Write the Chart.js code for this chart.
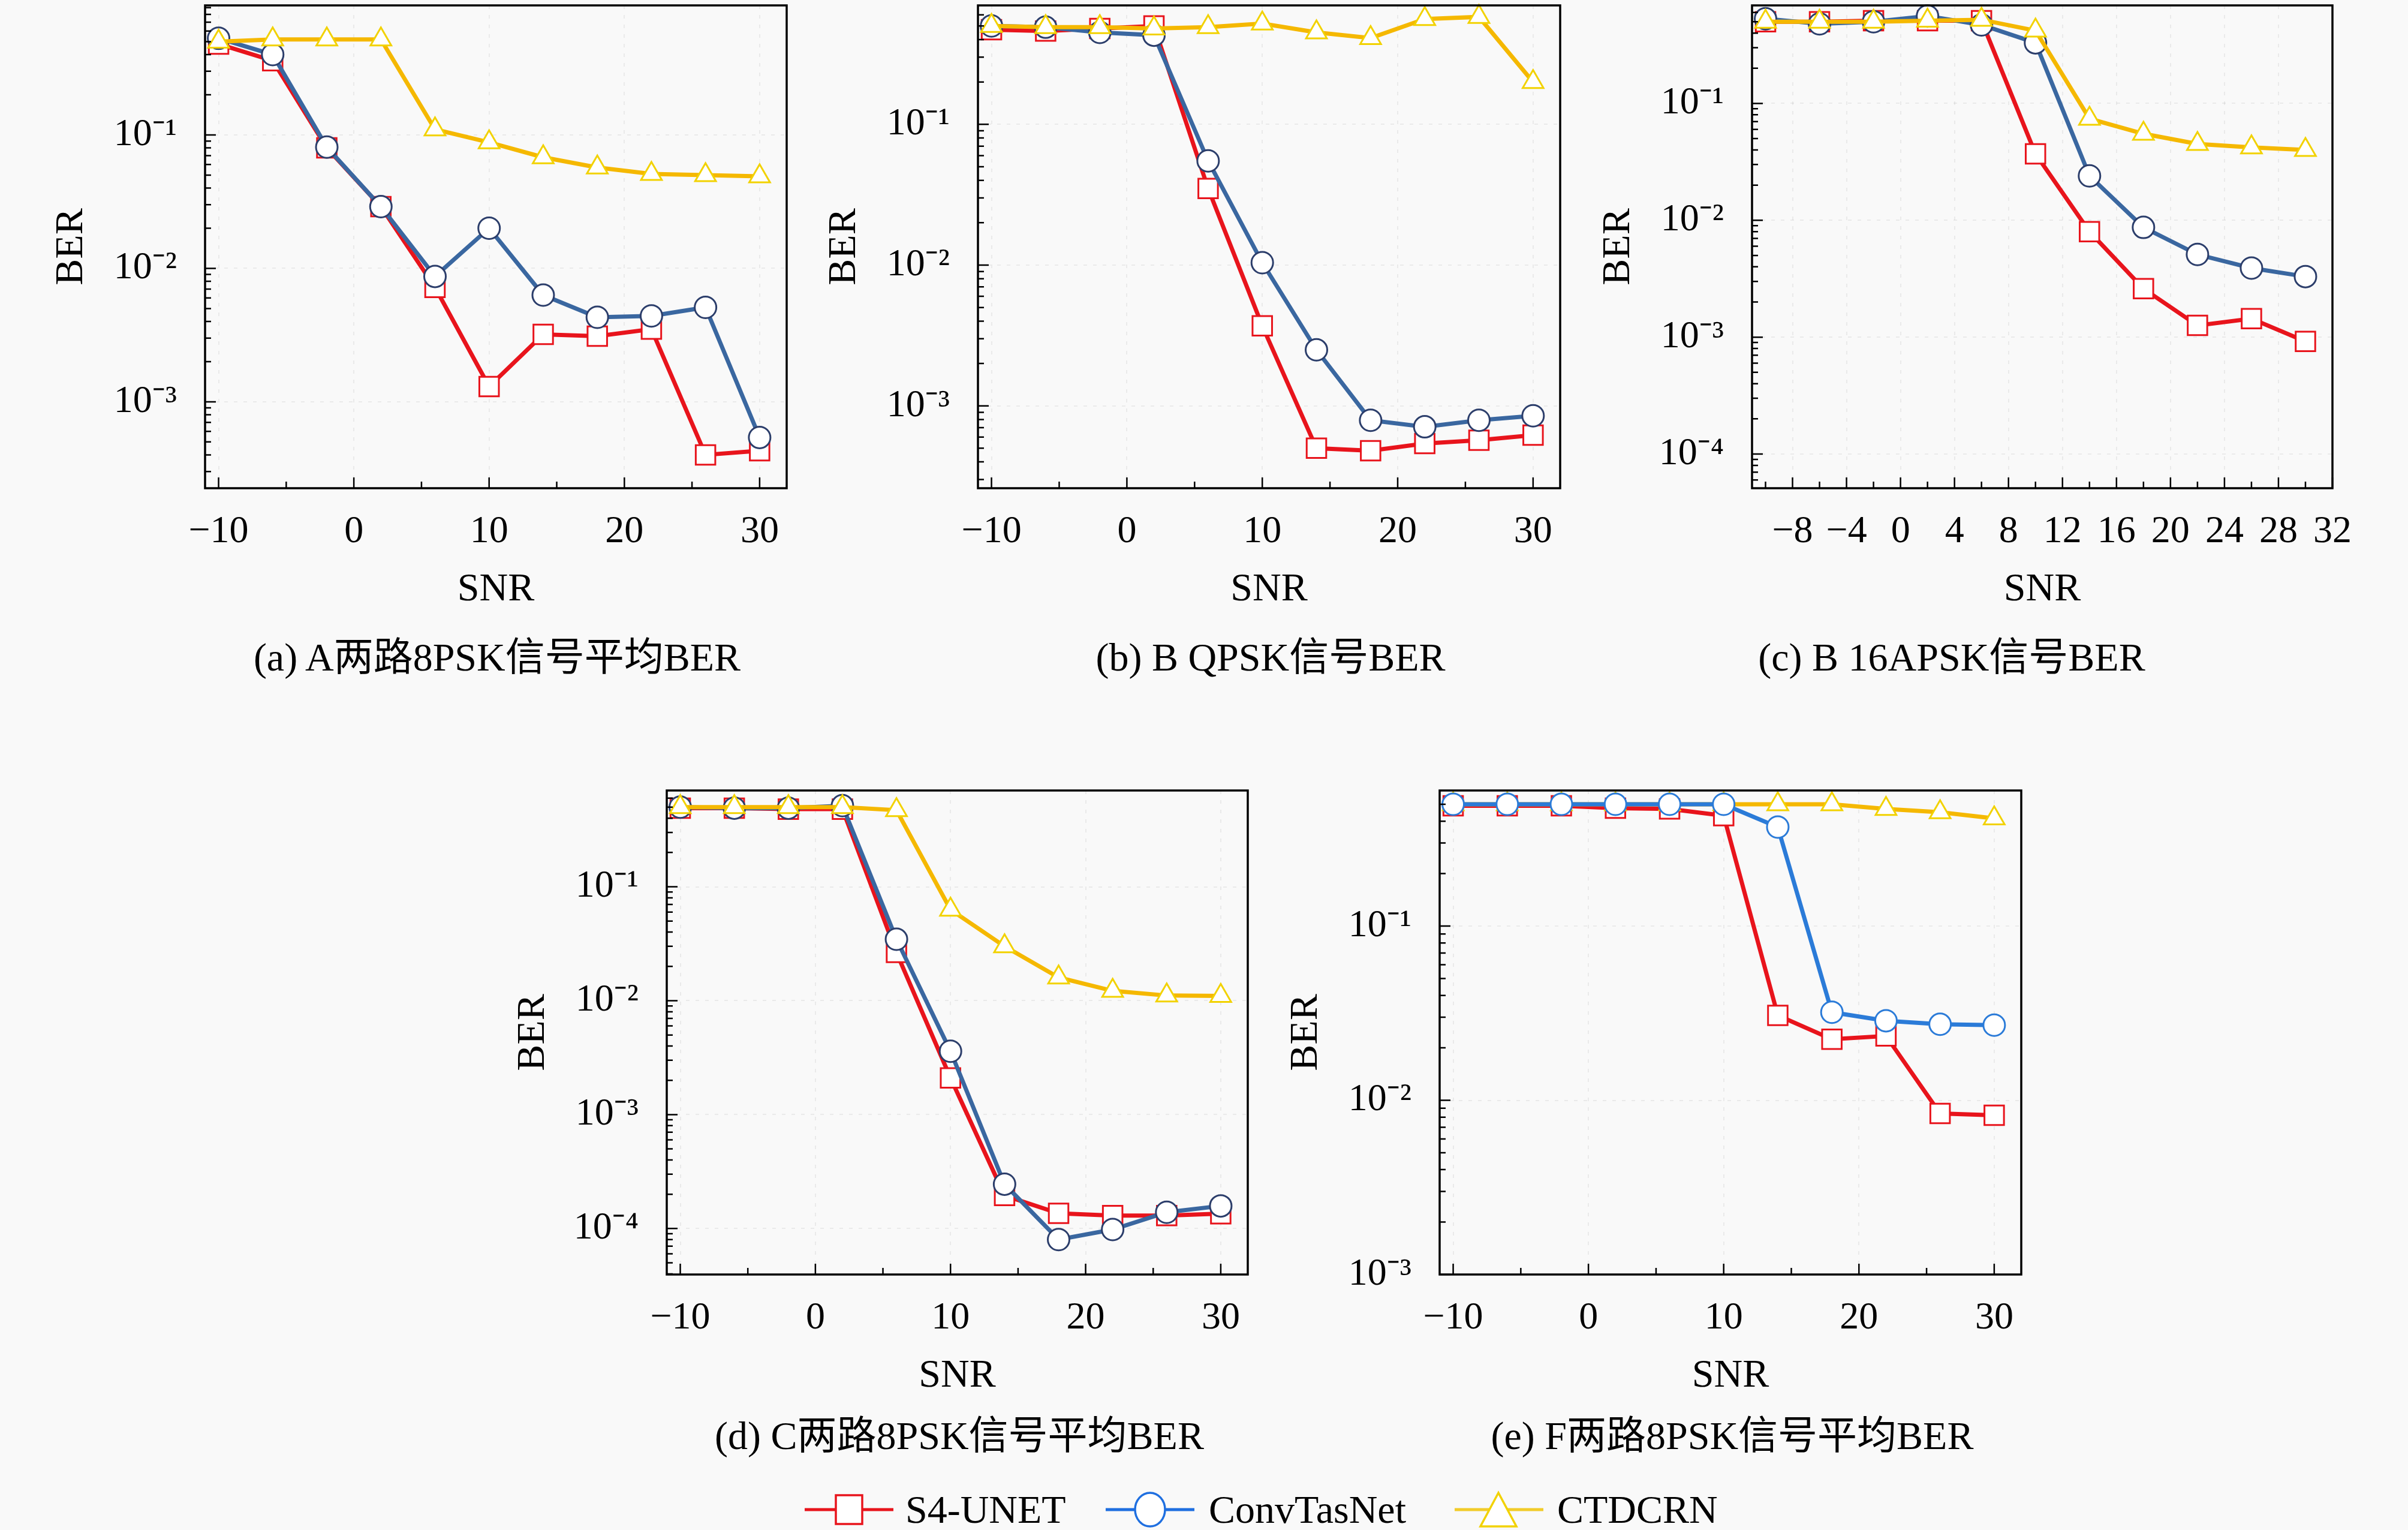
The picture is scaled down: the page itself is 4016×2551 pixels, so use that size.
<!DOCTYPE html>
<html>
<head>
<meta charset="utf-8">
<script src="https://cdn.jsdelivr.net/npm/chart.js@4.4.1/dist/chart.umd.min.js"></script>
<style>
	html, body { margin: 0; padding: 0; background: #f9f9f9; }
	body { width: 4016px; height: 2551px; position: relative; overflow: hidden;
		font-family: "Liberation Serif", "Noto Sans CJK SC", serif; color: #000; }
	canvas { position: absolute; }
	.cap { position: absolute; font-size: 66px; line-height: 80px; white-space: nowrap; transform: translate(-50%, -50%); }
	.leg { position: absolute; transform: translateY(-50%); }
	.legtxt { position: absolute; font-size: 66px; line-height: 80px; white-space: nowrap; transform: translateY(-50%); }
</style>
</head>
<body>
<canvas id="chartA"></canvas>
<canvas id="chartB"></canvas>
<canvas id="chartC"></canvas>
<canvas id="chartD"></canvas>
<canvas id="chartE"></canvas>

<div class="cap" style="left:829px; top:1096px;">(a) A两路8PSK信号平均BER</div>
<div class="cap" style="left:2119px; top:1096px;">(b) B QPSK信号BER</div>
<div class="cap" style="left:3255px; top:1096px;">(c) B 16APSK信号BER</div>
<div class="cap" style="left:1600px; top:2394px;">(d) C两路8PSK信号平均BER</div>
<div class="cap" style="left:2889px; top:2394px;">(e) F两路8PSK信号平均BER</div>

<!-- 범례 -->
<svg class="leg" style="left:1342px; top:2517px;" width="148" height="64">
	<line x1="0" y1="32" x2="148" y2="32" stroke="#e8141c" stroke-width="5"/>
	<rect x="52" y="8" width="44" height="48" fill="#fff" stroke="#e8141c" stroke-width="3.5"/>
</svg>
<div class="legtxt" style="left:1510px; top:2517px;">S4-UNET</div>
<svg class="leg" style="left:1844px; top:2517px;" width="148" height="64">
	<line x1="0" y1="32" x2="148" y2="32" stroke="#1f6fe0" stroke-width="5"/>
	<ellipse cx="74" cy="32" rx="25" ry="28" fill="#fff" stroke="#1f6fe0" stroke-width="3.5"/>
</svg>
<div class="legtxt" style="left:2016px; top:2517px;">ConvTasNet</div>
<svg class="leg" style="left:2426px; top:2517px;" width="148" height="64">
	<line x1="0" y1="32" x2="148" y2="32" stroke="#f2cc2a" stroke-width="5"/>
	<polygon points="73,4 43,60 103,60" fill="#fff" stroke="#f2d200" stroke-width="3.5"/>
</svg>
<div class="legtxt" style="left:2597px; top:2517px;">CTDCRN</div>

<script>
// SNR 축 (모든 그래프 공통)
const snr = [-10, -6, -2, 2, 6, 10, 14, 18, 22, 26, 30];

// (a) A 두 경로 8PSK 평균 BER
const berA_s4unet = [0.48, 0.36, 0.080, 0.029, 0.0072, 0.0013, 0.0032, 0.0031, 0.0035, 0.00040, 0.00043];
const berA_convtasnet = [0.53, 0.40, 0.081, 0.029, 0.0087, 0.020, 0.0063, 0.0043, 0.0044, 0.0051, 0.00054];
const berA_ctdcrn = [0.50, 0.52, 0.52, 0.52, 0.11, 0.088, 0.068, 0.057, 0.051, 0.050, 0.049];

// (b) B QPSK BER
const berB_s4unet = [0.47, 0.46, 0.48, 0.50, 0.035, 0.0037, 0.00050, 0.00048, 0.00054, 0.00057, 0.00062];
const berB_convtasnet = [0.50, 0.49, 0.45, 0.43, 0.055, 0.0104, 0.0025, 0.00079, 0.00071, 0.00079, 0.00085];
const berB_ctdcrn = [0.50, 0.49, 0.49, 0.48, 0.49, 0.52, 0.45, 0.41, 0.56, 0.58, 0.20];

// (c) B 16APSK BER
const berC_s4unet = [0.50, 0.50, 0.51, 0.51, 0.51, 0.037, 0.0080, 0.0026, 0.00126, 0.00144, 0.00092];
const berC_convtasnet = [0.53, 0.48, 0.50, 0.56, 0.47, 0.33, 0.024, 0.0087, 0.0051, 0.0039, 0.0033];
const berC_ctdcrn = [0.50, 0.50, 0.50, 0.51, 0.52, 0.42, 0.074, 0.055, 0.045, 0.042, 0.040];

// (d) C 두 경로 8PSK 평균 BER
const berD_s4unet = [0.49, 0.49, 0.48, 0.48, 0.0265, 0.0021, 0.000195, 0.000136, 0.00013, 0.00013, 0.000135];
const berD_convtasnet = [0.50, 0.49, 0.49, 0.515, 0.0346, 0.0036, 0.000245, 0.000080, 0.000098, 0.000139, 0.000158];
const berD_ctdcrn = [0.50, 0.50, 0.50, 0.50, 0.47, 0.063, 0.030, 0.016, 0.0122, 0.0111, 0.0110];

// (e) F 두 경로 8PSK 평균 BER
const berE_s4unet = [0.49, 0.49, 0.49, 0.475, 0.47, 0.43, 0.0307, 0.0224, 0.0234, 0.0084, 0.0082];
const berE_convtasnet = [0.50, 0.50, 0.50, 0.50, 0.50, 0.50, 0.37, 0.032, 0.0286, 0.0273, 0.0270];
const berE_ctdcrn = [0.50, 0.50, 0.50, 0.50, 0.50, 0.50, 0.50, 0.50, 0.47, 0.45, 0.415];

// 눈금
const xTicks = [-10, 0, 10, 20, 30];
const xMinorTicks = [-5, 5, 15, 25];
const xTicksC = [-8, -4, 0, 4, 8, 12, 16, 20, 24, 28, 32];
const xMinorTicksC = [-10, -6, -2, 2, 6, 10, 14, 18, 22, 26, 30];
const yTicks3 = [1e-3, 1e-2, 1e-1];
const yTicks4 = [1e-4, 1e-3, 1e-2, 1e-1];
const yTickLabels = { '-1': '10⁻¹', '-2': '10⁻²', '-3': '10⁻³', '-4': '10⁻⁴' };

Chart.defaults.font.family = '"Liberation Serif", "Noto Sans CJK SC", serif';
Chart.defaults.color = '#000';

const Y_AXIS_W = 300;
const X_AXIS_H = 220;
const PAD_TOP = 30;
const PAD_RIGHT = 40;

// 틀과 안쪽 눈금을 그리는 플러그인
const axisFrame = {
	id: 'axisFrame',
	afterDraw(chart, args, opts) {
		const { ctx, chartArea: a, scales: { x, y } } = chart;
		ctx.save();
		ctx.strokeStyle = '#000';
		ctx.lineWidth = 2.5;
		ctx.beginPath();
		const tickX = (v, len) => {
			const px = x.getPixelForValue(v);
			ctx.moveTo(px, a.bottom);
			ctx.lineTo(px, a.bottom - len);
		};
		const tickY = (v, len) => {
			const py = y.getPixelForValue(v);
			ctx.moveTo(a.left, py);
			ctx.lineTo(a.left + len, py);
		};
		x.ticks.forEach(t => tickX(t.value, 18));
		opts.xMinor.forEach(v => tickX(v, 11));
		y.ticks.forEach(t => tickY(t.value, 18));
		// 로그 보조 눈금 (2~9)
		for (let k = Math.floor(Math.log10(y.min)); k <= 0; k++) {
			for (let m = 2; m <= 9; m++) {
				const v = m * Math.pow(10, k);
				if (v > y.min && v < y.max) tickY(v, 10);
			}
		}
		ctx.stroke();
		ctx.lineWidth = 3.5;
		ctx.strokeRect(a.left, a.top, a.width, a.height);
		ctx.restore();
	}
};

function series(vals) {
	return snr.map((s, i) => ({ x: s, y: vals[i] }));
}

function makeChart(id, frame, yMin, yMax, yMajor, xMajor, xMinor, s4, conv, ctd, convColor, convEdge, convOrder) {
	const canvas = document.getElementById(id);
	canvas.width = frame.w + Y_AXIS_W + PAD_RIGHT;
	canvas.height = frame.h + PAD_TOP + X_AXIS_H;
	canvas.style.left = (frame.l - Y_AXIS_W) + 'px';
	canvas.style.top = (frame.t - PAD_TOP) + 'px';
	return new Chart(canvas.getContext('2d'), {
		type: 'line',
		data: {
			datasets: [
				{
					label: 'S4-UNET',
					data: series(s4),
					borderColor: '#e8141c',
					borderWidth: 7,
					pointStyle: 'rect',
					pointRadius: 23,
					pointBorderColor: '#e8141c',
					pointBackgroundColor: '#ffffff',
					pointBorderWidth: 3,
					order: 3,
					clip: false
				},
				{
					label: 'ConvTasNet',
					data: series(conv),
					borderColor: convColor,
					borderWidth: 7,
					pointStyle: 'circle',
					pointRadius: 18,
					pointBorderColor: convEdge,
					pointBackgroundColor: '#ffffff',
					pointBorderWidth: 3,
					order: convOrder,
					clip: false
				},
				{
					label: 'CTDCRN',
					data: series(ctd),
					borderColor: '#f5b800',
					borderWidth: 7,
					pointStyle: 'triangle',
					pointRadius: 20,
					pointBorderColor: '#f2d200',
					pointBackgroundColor: '#ffffff',
					pointBorderWidth: 3,
					order: 1.5,
					clip: false
				}
			]
		},
		options: {
			responsive: false,
			animation: false,
			devicePixelRatio: 1,
			layout: { padding: { left: 0, top: PAD_TOP, right: PAD_RIGHT, bottom: 0 } },
			plugins: {
				legend: { display: false },
				tooltip: { enabled: false },
				axisFrame: { xMinor: xMinor }
			},
			scales: {
				x: {
					type: 'linear',
					min: -11,
					max: 32,
					afterBuildTicks: s => { s.ticks = xMajor.map(v => ({ value: v })); },
					afterFit: s => { s.height = X_AXIS_H; s.paddingLeft = 0; s.paddingRight = 0; },
					ticks: {
						callback: v => (v < 0 ? '−' + Math.abs(v) : String(v)),
						padding: 35,
						font: { size: 64 },
						maxRotation: 0,
						autoSkip: false
					},
					grid: { color: 'rgba(0,0,0,0.06)', lineWidth: 2, drawTicks: false },
					border: { display: false, dash: [6, 10] },
					title: { display: true, text: 'SNR', font: { size: 66 }, padding: { top: 0, bottom: 11 } }
				},
				y: {
					type: 'logarithmic',
					min: yMin,
					max: yMax,
					afterBuildTicks: s => { s.ticks = yMajor.map(v => ({ value: v })); },
					afterFit: s => { s.width = Y_AXIS_W; s.paddingTop = 0; s.paddingBottom = 0; },
					ticks: {
						callback: v => yTickLabels[String(Math.round(Math.log10(v)))],
						padding: 47,
						font: { size: 64 },
						autoSkip: false
					},
					grid: { color: 'rgba(0,0,0,0.06)', lineWidth: 2, drawTicks: false },
					border: { display: false, dash: [6, 10] },
					title: { display: true, text: 'BER', font: { size: 66 }, padding: { top: 38, bottom: 0 } }
				}
			}
		},
		plugins: [axisFrame]
	});
}

makeChart('chartA', { l: 342, t: 9, w: 970, h: 805 }, 2.25e-4, 0.935, yTicks3, xTicks, xMinorTicks,
	berA_s4unet, berA_convtasnet, berA_ctdcrn, '#3a67a0', '#2c3e6b', 2);
makeChart('chartB', { l: 1631, t: 9, w: 971, h: 805 }, 2.6e-4, 0.70, yTicks3, xTicks, xMinorTicks,
	berB_s4unet, berB_convtasnet, berB_ctdcrn, '#3a67a0', '#2c3e6b', 2);
makeChart('chartC', { l: 2922, t: 9, w: 968, h: 805 }, 5.1e-5, 0.69, yTicks4, xTicksC, xMinorTicksC,
	berC_s4unet, berC_convtasnet, berC_ctdcrn, '#3a67a0', '#2c3e6b', 2);
makeChart('chartD', { l: 1112, t: 1318, w: 969, h: 807 }, 3.95e-5, 0.70, yTicks4, xTicks, xMinorTicks,
	berD_s4unet, berD_convtasnet, berD_ctdcrn, '#3a67a0', '#2c3e6b', 2);
makeChart('chartE', { l: 2401, t: 1318, w: 970, h: 807 }, 1e-3, 0.60, yTicks3, xTicks, xMinorTicks,
	berE_s4unet, berE_convtasnet, berE_ctdcrn, '#2b7bd8', '#2b7bd8', 1);
</script>
</body>
</html>
